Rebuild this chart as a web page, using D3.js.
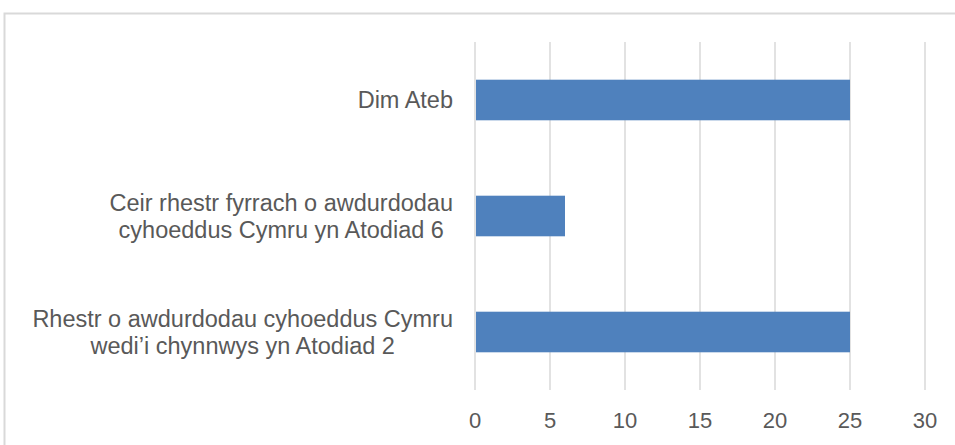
<!DOCTYPE html>
<html>
<head>
<meta charset="utf-8">
<script src="https://cdn.jsdelivr.net/npm/d3@7"></script>
<style>
  body { margin: 0; background: #fff; }
  text { font-family: "Liberation Sans", Arial, sans-serif; fill: #595959; }
</style>
</head>
<body>
<div id="chart"></div>
<script>
// data
var categories = [
  ["Dim Ateb"],
  ["Ceir rhestr fyrrach o awdurdodau", "cyhoeddus Cymru yn Atodiad 6"],
  ["Rhestr o awdurdodau cyhoeddus Cymru", "wedi\u2019i chynnwys yn Atodiad 2"]
];
var values = [25, 6, 25];
var ticks = [0, 5, 10, 15, 20, 25, 30];

var W = 955, H = 445;
var margin = { top: 42, left: 475, right: 30, bottom: 55 };

var svg = d3.select("#chart").append("svg")
    .attr("width", W)
    .attr("height", H);

// outer frame
svg.append("rect")
    .attr("x", 4.5).attr("y", 13.5)
    .attr("width", 1000).attr("height", 500)
    .attr("fill", "none")
    .attr("stroke", "#d9d9d9")
    .attr("stroke-width", 2);

var x = d3.scaleLinear().domain([0, 30]).range([margin.left, 925]);
var y = d3.scaleBand()
    .domain(d3.range(categories.length))
    .range([margin.top, H - margin.bottom])
    .paddingInner(0.65).paddingOuter(0.325);

// gridlines
svg.append("g").selectAll("line")
    .data(ticks)
    .enter().append("line")
    .attr("x1", function (d) { return x(d); })
    .attr("x2", function (d) { return x(d); })
    .attr("y1", margin.top)
    .attr("y2", H - margin.bottom)
    .attr("stroke", "#d9d9d9")
    .attr("stroke-width", 1.5);

// bars
svg.append("g").selectAll("rect")
    .data(values)
    .enter().append("rect")
    .attr("x", x(0) + 1)
    .attr("y", function (d, i) { return y(i); })
    .attr("width", function (d) { return x(d) - x(0) - 1; })
    .attr("height", y.bandwidth())
    .attr("fill", "#4f81bd");

// x tick labels
svg.append("g").selectAll("text")
    .data(ticks)
    .enter().append("text")
    .attr("x", function (d) { return x(d); })
    .attr("y", 428)
    .attr("text-anchor", "middle")
    .style("font-size", "22px")
    .text(function (d) { return d; });

// category labels: block right-aligned, lines centred within the block
var lh = 27, labelRight = 453;
categories.forEach(function (lines, i) {
  var cy = y(i) + y.bandwidth() / 2;
  var t = svg.append("text")
      .attr("text-anchor", "middle")
      .style("font-size", "23.5px");
  var spans = lines.map(function (s, j) {
    return t.append("tspan")
        .attr("y", cy + 8 + (j - (lines.length - 1) / 2) * lh)
        .text(s);
  });
  var maxW = d3.max(spans, function (sp) { return sp.node().getComputedTextLength(); });
  spans.forEach(function (sp) { sp.attr("x", labelRight - maxW / 2); });
});
</script>
</body>
</html>
